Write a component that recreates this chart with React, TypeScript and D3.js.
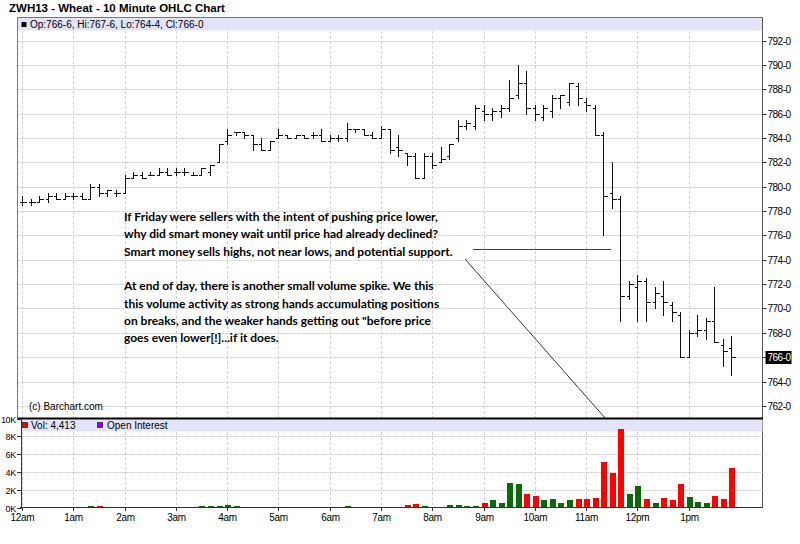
import React from 'react';
import * as d3 from 'd3';

// ---- data (10-minute bars starting 12:00am) ----
const opens = [778.75,778.75,778.75,779.0,779.25,779.0,779.25,779.25,779.0,780.0,779.5,779.5,779.5,780.75,781.0,781.0,781.0,781.25,781.25,781.25,781.0,781.0,781.25,782.0,783.75,784.5,784.5,784.25,783.5,783.0,784.0,784.25,784.0,784.25,784.25,784.25,783.75,784.0,784.0,784.75,784.75,784.25,784.0,784.75,783.25,782.75,782.5,780.75,782.5,782.0,782.5,784.0,785.0,785.0,786.25,786.0,786.25,786.5,787.5,788.5,786.5,785.75,786.25,787.25,787.0,788.25,787.0,786.5,784.25,779.5,779.0,771.0,771.75,772.25,770.5,771.0,770.25,769.5,766.0,768.0,768.25,769.0,767.0,766.75];
const highs = [779.25,779.0,779.25,779.5,779.5,779.5,779.5,779.5,780.25,780.25,779.75,779.75,781.0,781.25,781.25,781.25,781.5,781.5,781.5,781.5,781.25,781.5,781.75,783.5,784.75,784.5,784.5,784.25,784.0,783.75,784.75,784.25,784.25,784.25,784.5,784.75,784.25,784.25,785.25,784.75,784.75,784.5,785.0,784.75,784.25,782.75,782.75,782.75,782.75,783.25,783.5,785.5,785.5,786.75,786.75,786.5,786.75,788.75,790.0,789.5,786.75,786.75,787.5,787.5,788.5,788.5,787.25,786.75,784.5,782.0,779.25,772.25,772.75,772.5,771.75,772.25,770.5,769.75,768.25,769.5,769.25,771.75,767.5,767.75];
const lows = [778.5,778.5,778.75,778.75,779.0,779.0,779.0,779.0,779.0,779.25,779.25,779.25,779.5,780.75,780.75,781.0,781.0,781.0,781.0,781.0,781.0,781.0,781.0,782.0,783.5,784.25,784.0,783.0,783.0,783.0,784.0,784.0,784.0,784.0,784.0,783.75,783.75,783.75,783.75,784.5,784.25,784.0,784.0,782.75,782.5,781.75,780.75,780.75,781.5,782.0,782.25,783.75,784.75,784.75,785.5,785.5,785.75,786.25,787.25,786.0,785.5,785.5,785.75,786.5,786.75,786.75,786.25,784.25,776.0,778.25,769.0,770.75,769.0,769.0,770.0,769.5,769.0,766.0,766.0,767.75,767.5,767.25,765.25,764.5];
const closes = [778.75,778.75,779.0,779.25,779.0,779.25,779.25,779.0,780.0,779.5,779.75,779.5,780.75,781.0,780.75,781.0,781.25,781.0,781.25,781.25,781.0,781.5,781.75,783.5,784.25,784.5,784.25,783.5,783.0,783.75,784.25,784.0,784.25,784.0,784.25,783.75,784.0,784.0,784.75,784.75,784.25,784.0,784.75,783.0,783.0,782.5,780.75,782.5,781.75,782.25,783.5,785.0,785.25,786.5,786.0,786.25,786.5,787.25,788.5,786.5,786.0,786.5,787.25,787.5,788.5,787.25,786.75,784.25,779.25,779.0,771.0,772.0,772.25,770.5,771.25,770.5,769.75,766.0,768.0,768.25,769.0,767.25,766.5,766.0];
const volumes = [20,20,30,100,20,20,80,20,120,120,100,20,30,20,20,20,20,20,20,80,20,120,120,200,250,120,100,100,20,20,20,20,20,20,20,20,20,20,200,20,20,20,100,100,100,260,370,150,70,70,260,260,200,200,500,800,560,2800,2600,1500,1270,800,900,560,800,1000,900,1100,5100,3900,8800,1500,2400,1000,450,1100,800,2600,1200,600,500,1270,900,4413];

const hourLabels = ['12am','1am','2am','3am','4am','5am','6am','7am','8am','9am','10am','11am','12pm','1pm'];
const priceTicks = [762,764,766,768,770,772,774,776,778,780,782,784,786,788,790,792];
const volTicks = [0,2000,4000,6000,8000,10000];
const volTickLabels = ['0K','2K','4K','6K','8K','10K'];
const noteLines = [
  'If Friday were sellers with the intent of pushing price lower,',
  'why did smart money wait until price had already declined?',
  'Smart money sells highs, not near lows, and potential support.',
  '',
  'At end of day, there is another small volume spike.  We this',
  'this volume activity as strong hands accumulating positions',
  'on breaks, and the weaker hands getting out "before price',
  'goes even lower[!]...if it does.',
];

const fmtPrice = (p: number) => {
  const w = Math.floor(p);
  return `${w}-${Math.round((p - w) * 8)}`;
};

const LEFT = 17.5;
const RIGHT = 762.5;

export default function App() {
  const x = d3.scaleLinear().domain([0, 13 * 60]).range([22, 688.7]);
  const yP = d3.scaleLinear().domain([764, 790]).range([381.5, 65]);
  const yV = d3.scaleLinear().domain([0, 10000]).range([507.5, 418.5]);
  const n = closes.length;
  const bx = (i: number) => Math.round(x(i * 10)) + 0.5;
  const last = n - 1;
  const header = `Op:${fmtPrice(opens[last])}, Hi:${fmtPrice(highs[last])}, Lo:${fmtPrice(lows[last])}, Cl:${fmtPrice(closes[last])}`;
  const volColor = (i: number) => {
    if (i === 0) return '#000080';
    if (closes[i] > closes[i - 1]) return '#0a6a0a';
    if (closes[i] < closes[i - 1]) return '#ff0000';
    return '#000080';
  };
  const font = '"Liberation Sans", Arial, sans-serif';
  const grid = '#d2d2d2';
  const lastClose = closes[last];

  return (
    <svg width={800} height={544} style={{ position: 'absolute', left: 0, top: 0, background: '#fff' }} fontFamily={font}>
      <rect x={0} y={0} width={800} height={544} fill="#fff" />
      {/* title */}
      <text x={9} y={12} fontSize={11.5} fontWeight="bold" fill="#000">ZWH13 - Wheat - 10 Minute OHLC Chart</text>

      {/* main panel header band */}
      <rect x={LEFT} y={18} width={RIGHT - LEFT} height={12.5} fill="#e4e4f8" />
      <rect x={21.5} y={22} width={5} height={5} fill="#000" />
      <text x={30} y={27.5} fontSize={10} fill="#000">{header}</text>

      {/* price gridlines */}
      {priceTicks.map((p) => (
        <line key={'pg' + p} x1={LEFT} x2={RIGHT} y1={Math.round(yP(p)) + 0.5} y2={Math.round(yP(p)) + 0.5} stroke={grid} strokeDasharray="3,1" />
      ))}
      {hourLabels.map((h, k) => (
        <line key={'vg' + h} x1={bx(k * 6)} x2={bx(k * 6)} y1={31} y2={418} stroke={grid} strokeDasharray="3,2" />
      ))}

      {/* OHLC bars */}
      <g stroke="#111" strokeWidth={1} shapeRendering="crispEdges">
        {closes.map((c, i) => {
          const cx = bx(i);
          return (
            <g key={'b' + i}>
              <line x1={cx} x2={cx} y1={Math.round(yP(highs[i]))} y2={Math.round(yP(lows[i])) + 1} />
              <line x1={cx - 3} x2={cx} y1={Math.round(yP(opens[i])) + 0.5} y2={Math.round(yP(opens[i])) + 0.5} />
              <line x1={cx} x2={cx + 4} y1={Math.round(yP(c)) + 0.5} y2={Math.round(yP(c)) + 0.5} />
            </g>
          );
        })}
      </g>

      {/* main panel frame */}
      <line x1={LEFT} x2={RIGHT} y1={17.5} y2={17.5} stroke="#777" />
      <line x1={LEFT} x2={LEFT} y1={17.5} y2={418} stroke="#777" />
      <line x1={RIGHT} x2={RIGHT} y1={17.5} y2={508} stroke="#555" />

      {/* price axis */}
      {priceTicks.map((p) => {
        const yy = Math.round(yP(p)) + 0.5;
        return (
          <g key={'pt' + p}>
            <line x1={RIGHT} x2={RIGHT + 4} y1={yy} y2={yy} stroke="#333" />
            <text x={RIGHT + 5} y={yy} dy="0.35em" fontSize={10} letterSpacing={-0.5} fill="#000">{fmtPrice(p)}</text>
          </g>
        );
      })}
      <rect x={RIGHT + 3} y={Math.round(yP(lastClose)) - 6} width={26} height={13} fill="#000" />
      <text x={RIGHT + 5} y={Math.round(yP(lastClose)) + 0.5} dy="0.35em" fontSize={10} letterSpacing={-0.5} fill="#fff">{fmtPrice(lastClose)}</text>

      <text x={29} y={410} fontSize={10} fill="#000">(c) Barchart.com</text>

      {/* annotation */}
      <g fontFamily="Lato, 'Open Sans', sans-serif" fontWeight="bold" fontSize={12} fill="#000">
        {noteLines.map((t, k) => (
          <text key={'n' + k} x={124} y={221 + k * 17.3}>{t}</text>
        ))}
      </g>
      <line x1={473} x2={611} y1={249.5} y2={249.5} stroke="#444" />
      <line x1={465} y1={259} x2={613} y2={427} stroke="#333" />

      {/* volume panel */}
      <rect x={22} y={419.5} width={RIGHT - 22} height={12} fill="#e4e4f8" />
      {volTicks.slice(1, 5).map((v) => (
        <line key={'vgl' + v} x1={22} x2={RIGHT} y1={Math.round(yV(v)) + 0.5} y2={Math.round(yV(v)) + 0.5} stroke={grid} strokeDasharray="3,1" />
      ))}
      {hourLabels.map((h, k) => (
        <line key={'vvg' + h} x1={bx(k * 6)} x2={bx(k * 6)} y1={432} y2={507} stroke={grid} strokeDasharray="3,2" />
      ))}
      <rect x={22.5} y={422.5} width={5} height={5} fill="#ff0000" stroke="#000" strokeWidth={0.6} />
      <text x={31} y={428.5} fontSize={10} fill="#000">Vol: {d3.format(',')(volumes[last])}</text>
      <rect x={97.5} y={422.5} width={5} height={5} fill="#9900ff" stroke="#000" strokeWidth={0.6} />
      <text x={107} y={428.5} fontSize={10} fill="#000">Open Interest</text>

      <g shapeRendering="crispEdges">
        {volumes.map((v, i) => (
          <rect key={'v' + i} x={bx(i) - 3} y={yV(v)} width={6} height={yV(0) - yV(v)} fill={volColor(i)} />
        ))}
      </g>

      <line x1={LEFT} x2={RIGHT + 0.5} y1={418.5} y2={418.5} stroke="#000" strokeWidth={2} />
      <line x1={21.5} x2={21.5} y1={418} y2={508} stroke="#333" />
      <line x1={21} x2={RIGHT} y1={507.5} y2={507.5} stroke="#333" />
      {volTicks.map((v, k) => {
        const yy = Math.round(yV(v)) + 0.5;
        return (
          <g key={'vt' + v}>
            <line x1={17} x2={21.5} y1={yy} y2={yy} stroke="#333" />
            <text x={16} y={yy} dy="0.35em" fontSize={9} letterSpacing={-0.3} textAnchor="end" fill="#000">{volTickLabels[k]}</text>
          </g>
        );
      })}

      {/* time axis */}
      {hourLabels.map((h, k) => (
        <g key={'xt' + h}>
          <line x1={bx(k * 6)} x2={bx(k * 6)} y1={507.5} y2={511} stroke="#333" />
          <text x={bx(k * 6)} y={521} fontSize={10} letterSpacing={-0.3} textAnchor="middle" fill="#000">{h}</text>
        </g>
      ))}
    </svg>
  );
}
